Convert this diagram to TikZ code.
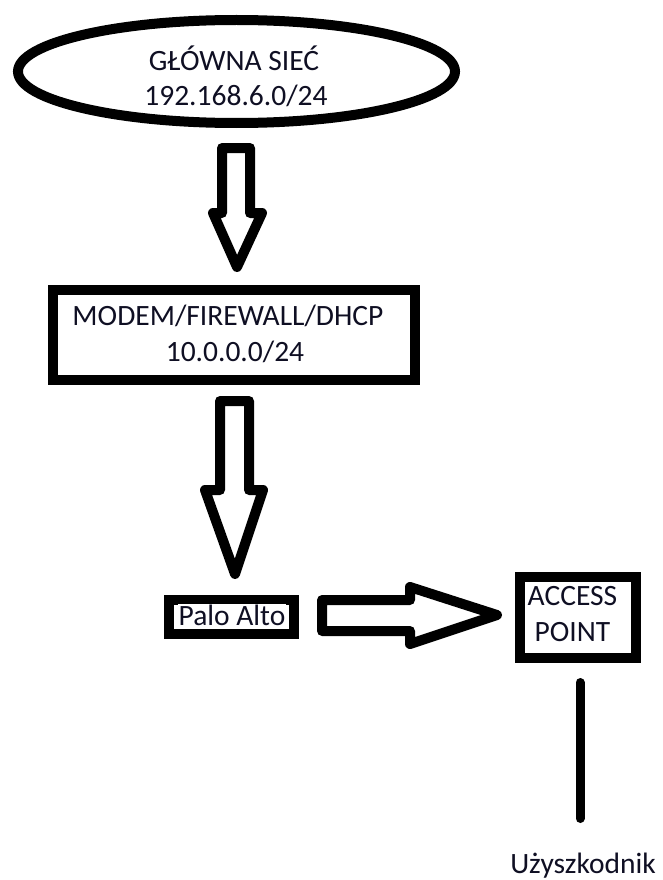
\documentclass[tikz,border=0pt]{standalone}
\usepackage{fontspec}
\setmainfont{Carlito}
\usetikzlibrary{shapes.geometric}
\definecolor{ink}{RGB}{15,15,35}
\begin{document}
\begin{tikzpicture}[x=1pt,y=-1pt,
  heavy/.style={line width=10pt, draw=black, inner sep=0pt},
  lbl/.style={font=\fontsize{29.5}{35}\selectfont, text=ink, inner sep=0pt, anchor=base},
  blockarrow/.style={line width=10pt, line join=round, draw=black},
  wire/.style={line width=9pt, line cap=round, draw=black}]
\useasboundingbox[fill=white] (0,0) rectangle (662,880);
% main network ellipse
\node[heavy, ellipse, minimum width=437pt, minimum height=103pt] (net) at (236.5,71.5) {};
\node[lbl] (net1) at (234,71) {GŁÓWNA SIEĆ};
\node[lbl] (net2) at (236,106) {192.168.6.0/24};
% arrow 1
\draw[blockarrow] (222,148) -- (222,213) -- (213,213) -- (237,267) -- (262,213) -- (250,213) -- (250,148) -- cycle;
% modem box
\node[heavy, rectangle, minimum width=362pt, minimum height=90pt] (modem) at (234,335) {};
\node[lbl] (modem1) at (228,325) {MODEM/FIREWALL/DHCP};
\node[lbl] (modem2) at (235,361) {10.0.0.0/24};
% arrow 2
\draw[blockarrow] (220,401) -- (220,490) -- (205,490) -- (235,574) -- (263,490) -- (249,490) -- (249,401) -- cycle;
% palo alto
\node[heavy, rectangle, minimum width=125pt, minimum height=34pt] (palo) at (231,616.5) {};
\node[lbl, fill=white, inner sep=1pt] (palo1) at (232,625) {Palo Alto};
% arrow 3
\draw[blockarrow] (322,600) -- (410,600) -- (410,587) -- (497,615) -- (410,644) -- (410,631) -- (322,631) -- cycle;
% access point
\node[heavy, rectangle, minimum width=116pt, minimum height=81pt] (ap) at (578,617.5) {};
\node[lbl] (ap1) at (572.5,605) {ACCESS};
\node[lbl] (ap2) at (572.5,641) {POINT};
% line to user
\coordinate (lt) at (580,682.5);
\coordinate (lb) at (580,818.5);
\draw[wire] (lt) -- (lb);
\node[lbl] (user) at (583,873) {Użyszkodnik};
\end{tikzpicture}
\end{document}
